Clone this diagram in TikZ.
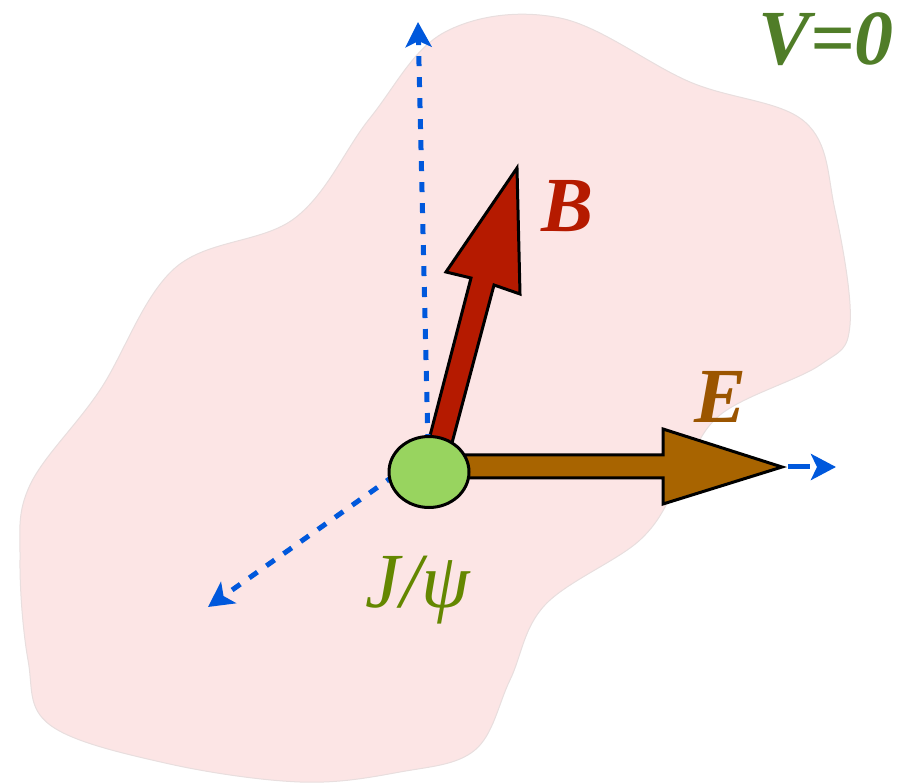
\documentclass[tikz,border=0pt]{standalone}
\usepackage{fontspec}
\newfontfamily\tnr{Liberation Serif}
\usetikzlibrary{arrows.meta,shapes.geometric}
\definecolor{blobfill}{RGB}{252,229,229}
\definecolor{blobline}{RGB}{232,222,222}
\definecolor{axisblue}{RGB}{0,88,220}
\definecolor{bred}{RGB}{181,26,0}
\definecolor{ebrown}{RGB}{168,100,0}
\definecolor{elabel}{RGB}{155,85,0}
\definecolor{vgreen}{RGB}{80,125,40}
\definecolor{jgreen}{RGB}{100,135,0}
\definecolor{ballgreen}{RGB}{152,212,95}
\tikzset{
  axisline/.style={axisblue, line width=5pt, dash pattern=on 10pt off 11pt,
    -{Stealth[length=25pt,width=26pt,inset=6pt]}},
  bigarrow/.style={draw=black, line width=3pt, line join=miter},
  ball/.style={ellipse, draw=black, line width=3pt, fill=ballgreen,
    minimum width=80pt, minimum height=71pt, inner sep=0pt},
  vlabel/.style={font=\tnr\bfseries\itshape\fontsize{78}{90}\selectfont, anchor=base}
}
\begin{document}
\begin{tikzpicture}[x=1pt,y=-1pt]
\useasboundingbox (0,0) rectangle (911,783);
% region
\draw[fill=blobfill, draw=blobline, line width=1pt] plot[smooth cycle, tension=0.6] coordinates {
 (560,18) (690,82) (805,122) (835,210) (850,325) (820,365) (720,415)
 (680,480) (640,540) (545,605) (510,680) (475,750) (400,772) (300,782)
 (165,763) (50,725) (28,660) (20,560) (30,485) (100,390) (175,268)
 (295,218) (370,118) (445,32)};
% coordinates
\coordinate (c) at (429,472);
\coordinate (cup) at (428,444);
\coordinate (cdl) at (429,451);
\coordinate (tipup) at (418,22);
\coordinate (tipdl) at (208,607);
\coordinate (etip) at (782,467);
\coordinate (tipr) at (836,467);
% B arrow
\draw[bigarrow, fill=bred] (425,455) -- (471,278) -- (446,272) -- (517,168) -- (520,294) -- (494,285) -- (448,458) -- cycle;
% E arrow
\draw[bigarrow, fill=ebrown] (430,455) -- (663,455) -- (663,429) -- (etip) -- (663,504) -- (663,478) -- (430,478) -- cycle;
% axes
\draw[axisline] (cup) -- (tipup);
\draw[axisline] (cdl) -- (tipdl);
\draw[axisline, dash pattern=on 22pt off 8pt] ([xshift=6pt]etip) -- (tipr);
% particle
\node[ball] (jpsi) at (c) {};
% labels
\node[vlabel, text=bred] (blab) at (568,232) {B};
\node[vlabel, text=elabel] (elab) at (721,423) {E};
\node[vlabel, text=vgreen] (vlab) at (826,65) {V=0};
\node[anchor=base, text=jgreen, font=\tnr\itshape\fontsize{78}{90}\selectfont] (jlab) at (418,607) {J/ψ};
\end{tikzpicture}
\end{document}
